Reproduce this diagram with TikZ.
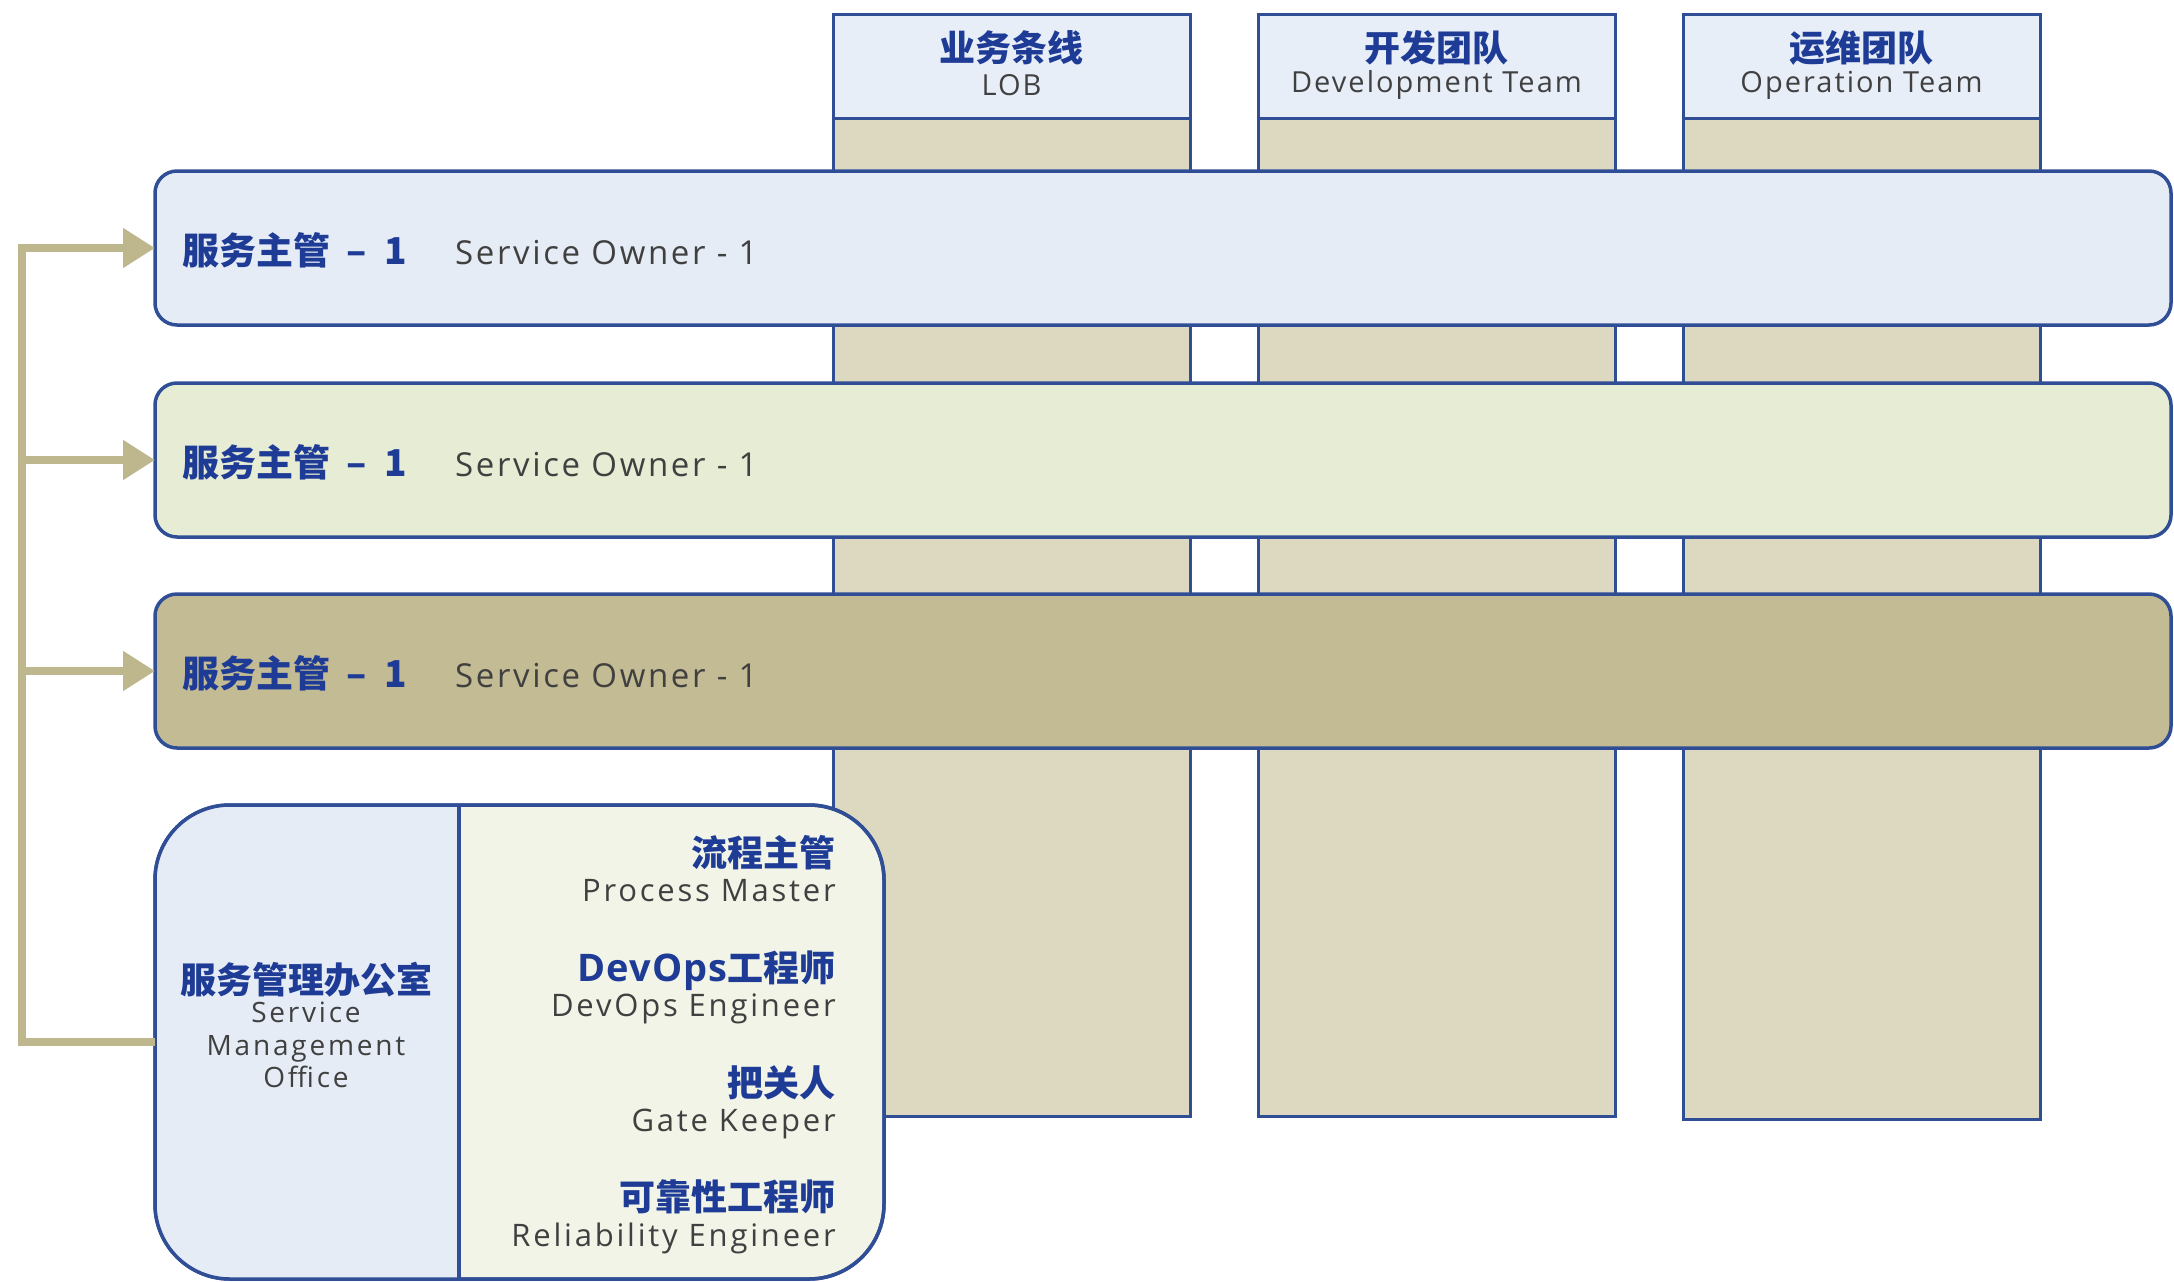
\documentclass[tikz,border=0pt]{standalone}
\usepackage{fontspec}
\setmainfont{Open Sans}
\newfontfamily\cjk{Noto Sans CJK SC}
\newfontfamily\latinbold{Open Sans}
\usetikzlibrary{arrows.meta}
\definecolor{bordercol}{RGB}{47,78,150}
\definecolor{textblue}{RGB}{30,60,150}
\definecolor{textgray}{RGB}{64,64,64}
\definecolor{headblue}{RGB}{232,238,248}
\definecolor{coltan}{RGB}{221,216,192}
\definecolor{bandone}{RGB}{230,236,246}
\definecolor{bandtwo}{RGB}{231,237,213}
\definecolor{bandthree}{RGB}{195,187,147}
\definecolor{smoleft}{RGB}{230,236,246}
\definecolor{smoright}{RGB}{242,244,232}
\definecolor{arrowtan}{RGB}{190,182,140}
\tikzset{
  colbody/.style={draw=bordercol, line width=3pt, fill=coltan, inner sep=0pt, outer sep=0pt, minimum width=357pt},
  colhead/.style={draw=bordercol, line width=3pt, fill=headblue, inner sep=0pt, outer sep=0pt, minimum width=357pt, minimum height=104pt},
  band/.style={draw=bordercol, line width=3.5pt, rounded corners=22pt, inner sep=0pt, outer sep=0pt, minimum width=2016pt, minimum height=154pt},
  smobox/.style={draw=bordercol, line width=3.5pt, rounded corners=75pt, fill=smoright, inner sep=0pt, outer sep=0pt, minimum width=729pt, minimum height=474pt},
  zhhead/.style={font=\cjk\bfseries\fontsize{36}{42}\selectfont, text=textblue, inner sep=0pt},
  enhead/.style={font=\fontsize{29}{34}\selectfont\addfontfeature{LetterSpace=7}, text=textgray, inner sep=0pt},
  zhband/.style={font=\cjk\bfseries\fontsize{37}{44}\selectfont, text=textblue, inner sep=0pt},
  enband/.style={font=\fontsize{33}{38}\selectfont\addfontfeature{LetterSpace=8}, text=textgray, inner sep=0pt},
  zhrole/.style={font=\cjk\bfseries\fontsize{36}{42}\selectfont, text=textblue, inner sep=0pt},
  enrole/.style={font=\fontsize{31}{36}\selectfont\addfontfeature{LetterSpace=9}, text=textgray, inner sep=0pt},
  ensmo/.style={font=\fontsize{28}{33}\selectfont\addfontfeature{LetterSpace=10}, text=textgray, inner sep=0pt},
  conn/.style={draw=arrowtan, line width=8pt, line join=miter},
  tip/.style={-{Triangle[length=32pt,width=38pt]}}
}
\begin{document}
\begin{tikzpicture}[x=1pt,y=-1pt]
\useasboundingbox (0,0) rectangle (2174,1282);
% columns
\node[colbody, minimum height=1102pt, anchor=north west] (c1) at (833,14) {};
\node[colbody, minimum height=1102pt, anchor=north west] (c2) at (1258,14) {};
\node[colbody, minimum height=1105pt, anchor=north west] (c3) at (1683,14) {};
\node[colhead, anchor=north west] (h1) at (833,14) {};
\node[colhead, anchor=north west] (h2) at (1258,14) {};
\node[colhead, anchor=north west] (h3) at (1683,14) {};
\node[zhhead, anchor=base] (h1zh) at (1011.5,61) {业务条线};
\node[enhead, anchor=base] (h1en) at (1011.5,95) {LOB};
\node[zhhead, anchor=base] (h2zh) at (1436.5,61) {开发团队};
\node[enhead, anchor=base] (h2en) at (1436.5,92) {Development Team};
\node[zhhead, anchor=base] (h3zh) at (1861.5,61) {运维团队};
\node[enhead, anchor=base] (h3en) at (1861.5,92) {Operation Team};
% bands
\node[band, fill=bandone, anchor=north west] (b1) at (155,171) {};
\node[band, fill=bandtwo, anchor=north west] (b2) at (155,383) {};
\node[band, fill=bandthree, anchor=north west] (b3) at (155,594) {};
\foreach \b/\y in {b1/264,b2/476,b3/687}{
  \node[zhband, anchor=base west] (\b zh) at (182,\y) {服务主管\hspace{16pt}–\hspace{18pt}1};
  \node[enband, anchor=base west] (\b en) at (455,\y) {Service Owner - 1};
}
% service management office
\node[smobox, anchor=north west] (smo) at (155,805) {};
\begin{scope}
  \clip[rounded corners=75pt] (155,805) rectangle (884,1279);
  \fill[smoleft] (155,805) rectangle (459,1279);
\end{scope}
\draw[bordercol, line width=3.5pt] (459,805) -- (459,1279);
\draw[bordercol, line width=3.5pt, rounded corners=75pt] (smo.north west) rectangle (smo.south east);
\node[zhrole, anchor=base] (smozh) at (306,993) {服务管理办公室};
\node[ensmo, anchor=base] (smoen1) at (306,1022) {Service};
\node[ensmo, anchor=base] (smoen2) at (306,1055) {Management};
\node[ensmo, anchor=base] (smoen3) at (306,1087) {Office};
\node[zhrole, anchor=base east] (r1zh) at (836,866) {流程主管};
\node[enrole, anchor=base east] (r1en) at (836,901) {Process Master};
\node[zhrole, anchor=base east] (r2zh) at (836,981) {{\latinbold\bfseries\fontsize{38}{42}\selectfont\addfontfeature{LetterSpace=3}DevOps}工程师};
\node[enrole, anchor=base east] (r2en) at (836,1016) {DevOps Engineer};
\node[zhrole, anchor=base east] (r3zh) at (836,1096) {把关人};
\node[enrole, anchor=base east] (r3en) at (836,1131) {Gate Keeper};
\node[zhrole, anchor=base east] (r4zh) at (836,1210) {可靠性工程师};
\node[enrole, anchor=base east] (r4en) at (836,1246) {Reliability Engineer};
% connectors
\coordinate (spine) at (22,0);
\draw[conn, tip] (smo.west) -| (b1.west -| spine) -- (b1.west);
\draw[conn, tip] (b2.west -| spine) -- (b2.west);
\draw[conn, tip] (b3.west -| spine) -- (b3.west);
\end{tikzpicture}
\end{document}
